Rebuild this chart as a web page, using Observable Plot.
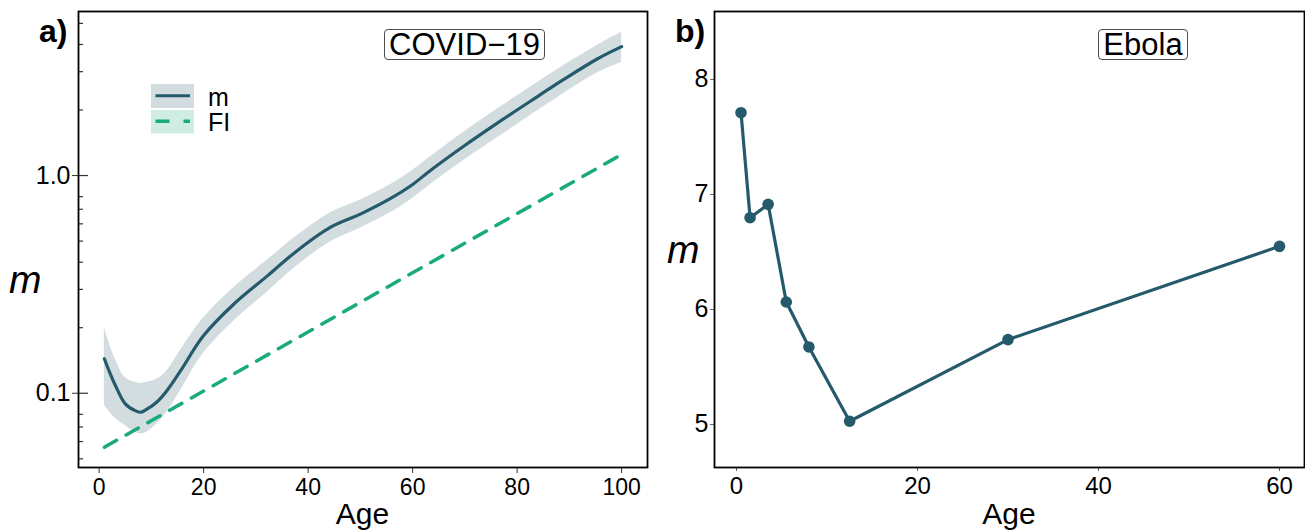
<!DOCTYPE html>
<html><head><meta charset="utf-8">
<script src="https://cdn.jsdelivr.net/npm/d3@7"></script>
<script src="https://cdn.jsdelivr.net/npm/@observablehq/plot@0.6"></script>
<style>
body{margin:0;background:#fff;}
#wrap{position:relative;width:1305px;height:531px;overflow:hidden;font-family:"Liberation Sans",Arial,Helvetica,sans-serif;color:#000;background:#fff;}
.abs{position:absolute;white-space:nowrap;}
.box{position:absolute;border:1px solid #4d4d4d;border-radius:4px;text-align:center;font-size:31px;line-height:30px;height:29px;background:#fff;}
</style></head><body><div id="wrap"></div>
<script>
// ---------- Panel a) COVID-19 ----------
const covidAge = [1, 2, 3, 5, 7, 8, 9, 11, 13, 15.6, 20, 25.8, 32.2, 37.3, 44.3, 50.1, 55.8, 59.6, 63.4, 69.9, 76.2, 82.6, 89, 95.4, 100];
const covidM   = [0.144, 0.125, 0.110, 0.0894, 0.083, 0.0818, 0.084, 0.0909, 0.103, 0.127, 0.184, 0.257, 0.346, 0.440, 0.579, 0.667, 0.785, 0.895, 1.055, 1.37, 1.74, 2.20, 2.77, 3.44, 3.91];
const covidLo  = [0.088, 0.082, 0.077, 0.071, 0.066, 0.065, 0.066, 0.072, 0.082, 0.103, 0.153, 0.215, 0.292, 0.375, 0.497, 0.575, 0.676, 0.773, 0.91, 1.18, 1.49, 1.89, 2.39, 2.97, 3.31];
const covidHi  = [0.200, 0.168, 0.145, 0.118, 0.112, 0.111, 0.112, 0.116, 0.127, 0.158, 0.222, 0.306, 0.409, 0.516, 0.675, 0.775, 0.91, 1.04, 1.22, 1.59, 2.02, 2.55, 3.21, 3.97, 4.55];
const fiAge    = [1, 100];
const fiValue  = [0.0565, 1.25];
const covidXTicks = [0, 20, 40, 60, 80, 100];
const covidYTicks = [0.1, 1];
const covidMinorTicks = [0.05, 0.06, 0.07, 0.08, 0.2, 0.3, 0.4, 0.5, 0.6, 0.7, 0.8, 2, 3, 4, 5];

// ---------- Panel b) Ebola ----------
const ebolaAge = [0.5, 1.5, 3.5, 5.5, 8, 12.5, 30, 60];
const ebolaM   = [7.711, 6.798, 6.914, 6.065, 5.674, 5.028, 5.738, 6.549];
const ebolaXTicks = [0, 20, 40, 60];
const ebolaYTicks = [5, 6, 7, 8];

const lineColor = "#245a6b";
const bandColor = "#d3dde0";
const fiColor = "#1aaa7e";
const fiBg = "#cfede3";
const FONT = '"Liberation Sans", Arial, Helvetica, sans-serif';

const covidRows = covidAge.map((a, i) => ({age: a, m: covidM[i], lo: covidLo[i], hi: covidHi[i]}));
const fiRows = fiAge.map((a, i) => ({age: a, v: fiValue[i]}));
const ebolaRows = ebolaAge.map((a, i) => ({age: a, m: ebolaM[i]}));

const wrap = document.getElementById("wrap");

// Left plot
const LW = 652, LML = 78, LMR = 5;
const innerL = LW - LML - LMR;
const left = Plot.plot({
  width: LW, height: 531,
  marginLeft: LML, marginRight: LMR, marginTop: 11, marginBottom: 64,
  style: {fontFamily: FONT, fontSize: "22px", background: "transparent", color: "#000", overflow: "visible"},
  x: {domain: [-3.95, 104.95], label: null},
  y: {type: "log", domain: [0.0456, 5.67], label: null},
  marks: [
    Plot.areaY(covidRows, {x: "age", y1: "lo", y2: "hi", fill: bandColor, curve: "catmull-rom"}),
    Plot.line(fiRows, {x: "age", y: "v", stroke: fiColor, strokeWidth: 3.5, strokeDasharray: "14,11"}),
    Plot.line(covidRows, {x: "age", y: "m", stroke: lineColor, strokeWidth: 3.2, curve: "catmull-rom"}),
    Plot.tickY(covidMinorTicks, {y: d => d, stroke: "#333", strokeWidth: 1.2, insetRight: innerL - 5}),
    Plot.tickY(covidYTicks, {y: d => d, stroke: "#333", strokeWidth: 1.2, insetRight: innerL - 10}),
    Plot.axisX(covidXTicks, {tickSize: 6, tickPadding: 5, fontSize: 23, stroke: "#333", tickFormat: d => String(d)}),
    Plot.axisY(covidYTicks, {tickSize: 6, tickPadding: 2, fontSize: 25, stroke: "#333", tickFormat: d => d.toFixed(1)}),
    Plot.frame({stroke: "#000", strokeWidth: 1.8})
  ]
});
left.style.position = "absolute";
left.style.left = "0px";
left.style.top = "0px";
wrap.appendChild(left);

// Right plot
const RW = 653;
const right = Plot.plot({
  width: RW, height: 531,
  marginLeft: 62, marginRight: 1, marginTop: 11, marginBottom: 64,
  style: {fontFamily: FONT, fontSize: "23px", background: "transparent", color: "#000", overflow: "visible"},
  x: {domain: [-2.43, 62.76], label: null},
  y: {domain: [4.626, 8.591], label: null},
  marks: [
    Plot.line(ebolaRows, {x: "age", y: "m", stroke: lineColor, strokeWidth: 3.2}),
    Plot.dot(ebolaRows, {x: "age", y: "m", r: 5.8, fill: lineColor, stroke: null}),
    Plot.axisX(ebolaXTicks, {tickSize: 4, tickPadding: 5, fontSize: 24, stroke: "#666", tickFormat: d => String(d)}),
    Plot.axisY(ebolaYTicks, {tickSize: 4, tickPadding: 2, fontSize: 25, stroke: "#666", tickFormat: d => String(d)}),
    Plot.frame({stroke: "#000", strokeWidth: 1.8})
  ]
});
right.style.position = "absolute";
right.style.left = "652px";
right.style.top = "0px";
wrap.appendChild(right);

// ---------- Text annotations ----------
function addText(txt, x, baseline, size, opts = {}) {
  const d = document.createElement("div");
  d.className = "abs";
  d.textContent = txt;
  d.style.fontSize = size + "px";
  d.style.lineHeight = size + "px";
  d.style.top = (baseline - 0.8465 * size) + "px";
  d.style.left = x + "px";
  if (opts.bold) d.style.fontWeight = "bold";
  if (opts.italic) d.style.fontStyle = "italic";
  if (opts.center) d.style.transform = "translateX(-50%)";
  wrap.appendChild(d);
  return d;
}
addText("a)", 39, 41.7, 32, {bold: true});
addText("b)", 675, 41.7, 32, {bold: true});
addText("m", 9, 293, 39, {italic: true});
addText("m", 667, 263, 39, {italic: true});
addText("Age", 362.5, 524, 30, {center: true});
addText("Age", 1009, 524, 30, {center: true});

function addBox(txt, x, w) {
  const d = document.createElement("div");
  d.className = "box";
  d.textContent = txt;
  d.style.left = x + "px";
  d.style.top = "29px";
  d.style.width = w + "px";
  wrap.appendChild(d);
}
addBox("COVID\u221219", 384, 159);
addBox("Ebola", 1098, 88);

// ---------- Legend (panel a) ----------
const ns = "http://www.w3.org/2000/svg";
const lg = document.createElementNS(ns, "svg");
lg.setAttribute("width", "60");
lg.setAttribute("height", "60");
lg.style.position = "absolute";
lg.style.left = "148px";
lg.style.top = "80px";
lg.innerHTML =
  `<rect x="3" y="4" width="43" height="24" fill="${bandColor}"/>` +
  `<line x1="7.5" x2="42" y1="15.7" y2="15.7" stroke="${lineColor}" stroke-width="3"/>` +
  `<rect x="3" y="30" width="43" height="23.5" fill="${fiBg}"/>` +
  `<line x1="7.5" x2="42" y1="41.3" y2="41.3" stroke="${fiColor}" stroke-width="3.5" stroke-dasharray="14,14"/>`;
wrap.appendChild(lg);
addText("m", 208, 105.7, 25);
addText("FI", 208, 131, 25);
</script></body></html>
